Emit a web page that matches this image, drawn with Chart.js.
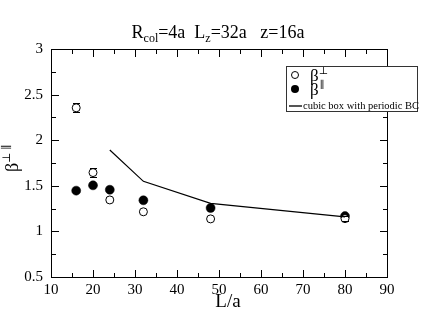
<!DOCTYPE html>
<html>
<head>
<meta charset="utf-8">
<script src="https://cdn.jsdelivr.net/npm/chart.js@4/dist/chart.umd.min.js"></script>
<style>
  html, body { margin: 0; padding: 0; background: #fff; }
  #wrap { width: 436px; height: 327px; position: relative; }
</style>
</head>
<body>
<div id="wrap"><canvas id="betaChart" width="436" height="327"></canvas></div>
<script>
// data
const sizes = [16, 20, 24, 32, 48, 80];            // L/a
const betaPerp = [2.355, 1.645, 1.345, 1.215, 1.137, 1.14];
const betaPerpErr = [0.05, 0.045, 0, 0, 0, 0.03];
const betaPar = [1.447, 1.505, 1.457, 1.341, 1.257, 1.168];
const cubicL = [24, 32, 48, 80];
const cubicBeta = [1.893, 1.549, 1.308, 1.16];

const xTicks = [10, 20, 30, 40, 50, 60, 70, 80, 90];
const yTicks = [0.5, 1, 1.5, 2, 2.5, 3];
const xMinor = [15, 25, 35, 45, 55, 65, 75, 85];
const yMinor = [0.75, 1.25, 1.75, 2.25, 2.75];

const serif = '"Liberation Serif", "DejaVu Serif", serif';

function toPoints(xs, ys) {
    return xs.map((x, i) => ({ x: x, y: ys[i] }));
}

// frame, inward ticks on all four sides, error bars, texts, legend
const framePlugin = {
    id: 'frame',
    afterDatasetsDraw(chart) {
        const ctx = chart.ctx;
        const xs = chart.scales.x, ys = chart.scales.y;
        ctx.save();
        ctx.fillStyle = '#000';
        sizes.forEach((L, i) => {
            const e = betaPerpErr[i];
            if (!e) return;
            const px = Math.round(xs.getPixelForValue(L));
            const top = Math.round(ys.getPixelForValue(betaPerp[i] + e));
            const bot = Math.round(ys.getPixelForValue(betaPerp[i] - e));
            ctx.fillRect(px - 3, top, 7, 1);
            ctx.fillRect(px - 3, bot, 7, 1);
        });
        ctx.restore();
    },
    afterDraw(chart) {
        const ctx = chart.ctx;
        const a = chart.chartArea;
        const xs = chart.scales.x, ys = chart.scales.y;
        const left = Math.round(a.left), right = Math.round(a.right);
        const top = Math.round(a.top), bottom = Math.round(a.bottom);
        ctx.save();
        ctx.fillStyle = '#000';
        ctx.fillRect(left, top, right - left + 1, 1);
        ctx.fillRect(left, bottom, right - left + 1, 1);
        ctx.fillRect(left, top, 1, bottom - top + 1);
        ctx.fillRect(right, top, 1, bottom - top + 1);
        for (const v of xTicks.concat(xMinor)) {
            const len = xTicks.includes(v) ? 7 : 4;
            const p = Math.round(xs.getPixelForValue(v));
            ctx.fillRect(p, bottom - len, 1, len);
            ctx.fillRect(p, top + 1, 1, len);
        }
        for (const v of yTicks.concat(yMinor)) {
            const len = yTicks.includes(v) ? 7 : 4;
            const p = Math.round(ys.getPixelForValue(v));
            ctx.fillRect(left + 1, p, len, 1);
            ctx.fillRect(right - len, p, len, 1);
        }

        // title with subscripts
        ctx.textBaseline = 'alphabetic';
        const parts = [
            ['R', 18, 0], ['col', 12, 4], ['=4a  L', 18, 0], ['z', 12, 4], ['=32a   z=16a', 18, 0]
        ];
        let w = 0;
        parts.forEach(p => { ctx.font = p[1] + 'px ' + serif; w += ctx.measureText(p[0]).width; });
        let tx = (a.left + a.right) / 2 - w / 2 - 1;
        parts.forEach(p => {
            ctx.font = p[1] + 'px ' + serif;
            ctx.fillText(p[0], tx, 38 + p[2]);
            tx += ctx.measureText(p[0]).width;
        });

        // x axis title
        ctx.font = '19px ' + serif;
        ctx.textAlign = 'center';
        ctx.fillText('L/a', (a.left + a.right) / 2 + 9, 307);

        // y axis title, rotated
        ctx.save();
        ctx.translate(18, 161);
        ctx.rotate(-Math.PI / 2);
        ctx.textAlign = 'left';
        ctx.font = '18px ' + serif;
        const bw = ctx.measureText('β').width;
        ctx.fillText('β', -11, 0);
        ctx.font = '11px ' + serif;
        ctx.fillText('⊥ ∥', -11 + bw, -8);
        ctx.restore();

        // legend box
        const lx = 286, ly = 66, lw = 131, lh = 45;
        ctx.fillStyle = '#fff';
        ctx.fillRect(lx, ly, lw, lh);
        ctx.fillStyle = '#333';
        ctx.fillRect(lx, ly, lw + 1, 1);
        ctx.fillRect(lx, ly + lh, lw + 1, 1);
        ctx.fillRect(lx, ly, 1, lh + 1);
        ctx.fillRect(lx + lw, ly, 1, lh + 1);
        ctx.fillStyle = '#000';
        ctx.strokeStyle = '#000';
        ctx.lineWidth = 1;
        ctx.beginPath(); ctx.arc(295, 75, 3.5, 0, Math.PI * 2); ctx.stroke();
        ctx.beginPath(); ctx.arc(295, 89, 4, 0, Math.PI * 2); ctx.fill();
        ctx.textAlign = 'left';
        ctx.font = '17px ' + serif;
        ctx.fillText('β', 310, 81);
        ctx.fillText('β', 310, 95);
        const bw2 = ctx.measureText('β').width;
        ctx.font = '10px ' + serif;
        ctx.fillText('⊥', 310 + bw2, 74);
        ctx.fillText('∥', 310 + bw2 + 1, 88);
        ctx.fillStyle = '#555';
        ctx.fillRect(289, 105, 13, 2);
        ctx.fillStyle = '#000';
        ctx.font = '10.5px ' + serif;
        ctx.fillText('cubic box with periodic BC', 303, 109);
        ctx.restore();
    }
};

new Chart(document.getElementById('betaChart'), {
    type: 'scatter',
    data: {
        datasets: [
            {
                label: 'cubic box with periodic BC',
                data: toPoints(cubicL, cubicBeta),
                showLine: true,
                borderColor: '#000',
                borderWidth: 1.2,
                pointRadius: 0,
                tension: 0
            },
            {
                label: 'β⊥',
                data: toPoints(sizes, betaPerp),
                pointStyle: 'circle',
                pointRadius: 4,
                borderWidth: 1,
                borderColor: '#000',
                backgroundColor: '#fff'
            },
            {
                label: 'β∥',
                data: toPoints(sizes, betaPar),
                pointStyle: 'circle',
                pointRadius: 4.5,
                borderWidth: 0.5,
                borderColor: '#000',
                backgroundColor: '#000'
            }
        ]
    },
    options: {
        responsive: false,
        animation: false,
        layout: { padding: { top: 49, right: 49, left: 0, bottom: 0 } },
        plugins: {
            legend: { display: false },
            tooltip: { enabled: false }
        },
        scales: {
            x: {
                type: 'linear',
                min: 10,
                max: 90,
                grid: { display: false, drawTicks: false },
                border: { display: false },
                afterFit: s => { s.height = 50; },
                afterBuildTicks: s => { s.ticks = xTicks.map(v => ({ value: v })); },
                ticks: {
                    color: '#000',
                    font: { family: serif, size: 15 },
                    padding: 4,
                    autoSkip: false,
                    maxRotation: 0,
                    callback: v => String(v)
                }
            },
            y: {
                type: 'linear',
                min: 0.5,
                max: 3,
                grid: { display: false, drawTicks: false },
                border: { display: false },
                afterFit: s => { s.width = 51; },
                afterBuildTicks: s => { s.ticks = yTicks.map(v => ({ value: v })); },
                ticks: {
                    color: '#000',
                    font: { family: serif, size: 15 },
                    padding: 8,
                    autoSkip: false,
                    callback: v => String(v)
                }
            }
        }
    },
    plugins: [framePlugin]
});
</script>
</body>
</html>
